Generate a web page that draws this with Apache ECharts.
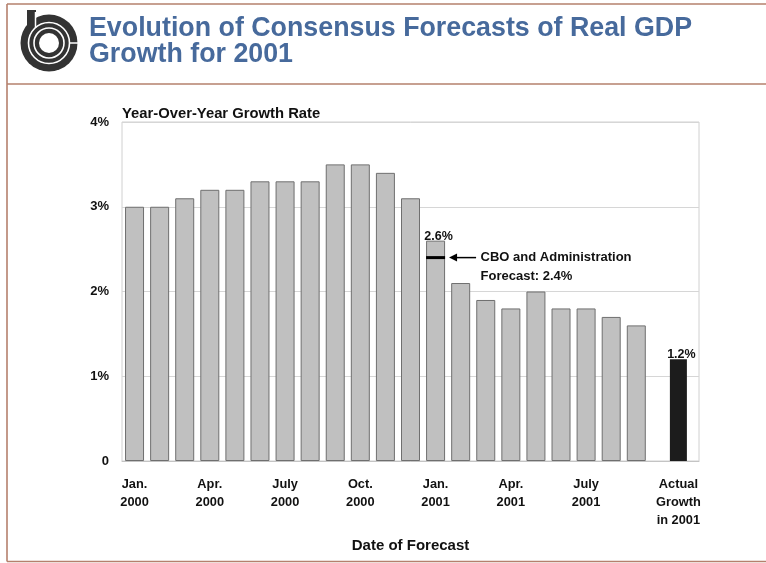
<!DOCTYPE html>
<html>
<head>
<meta charset="utf-8">
<script src="https://cdn.jsdelivr.net/npm/echarts@6/dist/echarts.min.js"></script>
<style>
  html, body { margin: 0; padding: 0; background: #fff; }
  #chart { width: 766px; height: 563px; }
</style>
</head>
<body>
<div id="chart"></div>
<script>
// Monthly consensus forecasts of 2001 real GDP growth (percent, year over year)
const forecastDates = [
  'Jan. 2000', 'Feb. 2000', 'Mar. 2000', 'Apr. 2000', 'May 2000', 'June 2000',
  'July 2000', 'Aug. 2000', 'Sep. 2000', 'Oct. 2000', 'Nov. 2000', 'Dec. 2000',
  'Jan. 2001', 'Feb. 2001', 'Mar. 2001', 'Apr. 2001', 'May 2001', 'June 2001',
  'July 2001', 'Aug. 2001', 'Sep. 2001'
];
const consensusForecast = [
  3.0, 3.0, 3.1, 3.2, 3.2, 3.3, 3.3, 3.3, 3.5, 3.5, 3.4, 3.1,
  2.6, 2.1, 1.9, 1.8, 2.0, 1.8, 1.8, 1.7, 1.6
];
// Quarterly tick labels under the forecast bars
const dateTickLabels = [
  'Jan.\n2000', 'Apr.\n2000', 'July\n2000', 'Oct.\n2000',
  'Jan.\n2001', 'Apr.\n2001', 'July\n2001'
];
const labeledForecastDate = 'Jan. 2001';

const actualGrowth = 1.2;
const actualLabel = 'Actual\nGrowth\nin 2001';

const cboForecast = 2.4;
const cboForecastDate = 'Jan. 2001';
const cboText = ['CBO and Administration', 'Forecast: 2.4%'];

const yTicks = [0, 1, 2, 3, 4];

const titleLines = ['Evolution of Consensus Forecasts of Real GDP', 'Growth for 2001'];
const yAxisTitle = 'Year-Over-Year Growth Rate';
const xAxisTitle = 'Date of Forecast';

// ---- layout helpers ----
const FONT = "'Liberation Sans', Arial, Helvetica, sans-serif";
const FRAME = '#b5806d';
const GAP_SLOTS = 2;          // empty bands between Sep. 2001 and the actual bar
const ACTUAL_BANDS = 14;      // band count of the axis carrying the actual bar

const forecastAxisData = forecastDates.concat(
  Array.from({ length: GAP_SLOTS }, (_, i) => 'gap' + i)
);
const actualAxisData = Array.from({ length: ACTUAL_BANDS }, (_, i) =>
  i === ACTUAL_BANDS - 1 ? actualLabel : 'band' + i
);

const chart = echarts.init(document.getElementById('chart'), null, { renderer: 'canvas' });

const labelStyle = {
  fontFamily: FONT, fontWeight: 'bold', fontSize: 12.8, color: '#111', lineHeight: 18
};
const valueLabel = {
  show: true,
  position: 'top',
  distance: 0,
  offset: [3, 2],
  fontFamily: FONT, fontWeight: 'bold', fontSize: 12.5, color: '#111',
  formatter: p => p.value.toFixed(1) + '%'
};

const option = {
  backgroundColor: '#fff',
  animation: false,
  title: {
    text: titleLines.join('\n'),
    left: 89, top: 16,
    padding: 0,
    textStyle: {
      fontFamily: FONT, fontWeight: 'bold', fontSize: 26.8, lineHeight: 26, color: '#476a9c'
    }
  },
  grid: {
    left: 122, right: 67, top: 122, bottom: 102,
    show: true, borderColor: '#d0d0d0', borderWidth: 1
  },
  xAxis: [
    {
      type: 'category',
      position: 'bottom',
      data: forecastAxisData,
      boundaryGap: true,
      name: xAxisTitle,
      nameLocation: 'middle',
      nameGap: 77,
      nameTextStyle: { fontFamily: FONT, fontWeight: 'bold', fontSize: 15, color: '#111' },
      axisLine: { show: true, lineStyle: { color: '#c4c4c4', width: 1 } },
      axisTick: { show: false },
      axisLabel: {
        interval: 0,
        margin: 14,
        ...labelStyle,
        formatter: (v, i) =>
          (i % 3 === 0 && i < forecastDates.length) ? dateTickLabels[i / 3] : ''
      },
      splitLine: { show: false }
    },
    {
      type: 'category',
      position: 'bottom',
      data: actualAxisData,
      boundaryGap: true,
      axisLine: { show: false },
      axisTick: { show: false },
      axisLabel: {
        interval: 0,
        margin: 14,
        ...labelStyle,
        formatter: (v, i) => (i === ACTUAL_BANDS - 1 ? actualLabel : '')
      },
      splitLine: { show: false }
    }
  ],
  yAxis: {
    type: 'value',
    min: yTicks[0],
    max: yTicks[yTicks.length - 1],
    interval: 1,
    name: yAxisTitle,
    nameLocation: 'end',
    nameGap: 1,
    nameTextStyle: {
      fontFamily: FONT, fontWeight: 'bold', fontSize: 14.8, color: '#111', align: 'left'
    },
    axisLine: { show: false },
    axisTick: { show: false },
    axisLabel: {
      margin: 13,
      fontFamily: FONT, fontWeight: 'bold', fontSize: 13, color: '#111',
      formatter: v => (v === 0 ? '0' : v + '%')
    },
    splitLine: { show: true, lineStyle: { color: '#d6d6d6', width: 1 } }
  },
  series: [
    {
      name: 'Consensus forecast',
      type: 'bar',
      xAxisIndex: 0,
      barWidth: 19,
      itemStyle: { color: '#c0c0c0', borderColor: '#6f6f6f', borderWidth: 1 },
      label: { ...valueLabel, show: false },
      data: consensusForecast.map((v, i) =>
        forecastDates[i] === labeledForecastDate ? { value: v, label: { show: true } } : v
      )
    },
    {
      name: 'Actual growth',
      type: 'bar',
      xAxisIndex: 1,
      barWidth: 17,
      itemStyle: { color: '#1c1c1c' },
      label: valueLabel,
      data: actualAxisData.map((_, i) => (i === ACTUAL_BANDS - 1 ? actualGrowth : null))
    }
  ]
};

chart.setOption(option);

// ---- page frame, logo and the CBO callout ----
function frameGraphics() {
  const W = 766;
  const line = (x1, y1, x2, y2) => ({
    type: 'line', silent: true,
    shape: { x1, y1, x2, y2 },
    style: { stroke: FRAME, lineWidth: 1.6 }
  });
  return [
    line(7, 4, W, 4),
    line(7, 84, W, 84),
    line(7, 561.5, W, 561.5),
    line(7, 4, 7, 561.5)
  ];
}

function logoGraphics() {
  const cx = 49, cy = 43, ink = '#333';
  return [
    { type: 'rect', shape: { x: 27, y: 10, width: 9, height: 34 }, style: { fill: ink } },
    { type: 'circle', shape: { cx, cy, r: 28.5 }, style: { fill: ink } },
    { type: 'circle', shape: { cx, cy, r: 20.5 }, style: { fill: 'none', stroke: '#fff', lineWidth: 1.6 } },
    { type: 'circle', shape: { cx, cy, r: 15 }, style: { fill: 'none', stroke: '#fff', lineWidth: 1.6 } },
    { type: 'circle', shape: { cx, cy, r: 10 }, style: { fill: '#fff' } },
    { type: 'line', shape: { x1: 35.5, y1: 12, x2: 35.5, y2: 28 }, style: { stroke: '#fff', lineWidth: 1.5 } },
    { type: 'line', shape: { x1: 69, y1: cy, x2: 78, y2: cy }, style: { stroke: '#fff', lineWidth: 1.5 } }
  ];
}

function cboGraphics() {
  const p = chart.convertToPixel({ xAxisIndex: 0, yAxisIndex: 0 }, [cboForecastDate, cboForecast]);
  const x = p[0], y = p[1];
  const tip = x + 13.5;
  return [
    { type: 'rect', shape: { x: x - 9.5, y: y - 1.5, width: 19, height: 3 }, style: { fill: '#000' }, z: 10 },
    { type: 'polygon', shape: { points: [[tip, y], [tip + 8, y - 4], [tip + 8, y + 4]] }, style: { fill: '#000' }, z: 10 },
    { type: 'line', shape: { x1: tip + 6, y1: y, x2: x + 40.5, y2: y }, style: { stroke: '#000', lineWidth: 1.5 }, z: 10 },
    {
      type: 'text', z: 10,
      x: x + 45,
      // first line centred on the forecast level
      y: y - 9.5,
      style: {
        text: cboText.join('\n'),
        fontFamily: FONT, fontWeight: 'bold', fontSize: 13, fill: '#111',
        lineHeight: 19, verticalAlign: 'top', align: 'left'
      }
    }
  ];
}

chart.setOption({ graphic: frameGraphics().concat(logoGraphics(), cboGraphics()) });
</script>
</body>
</html>
